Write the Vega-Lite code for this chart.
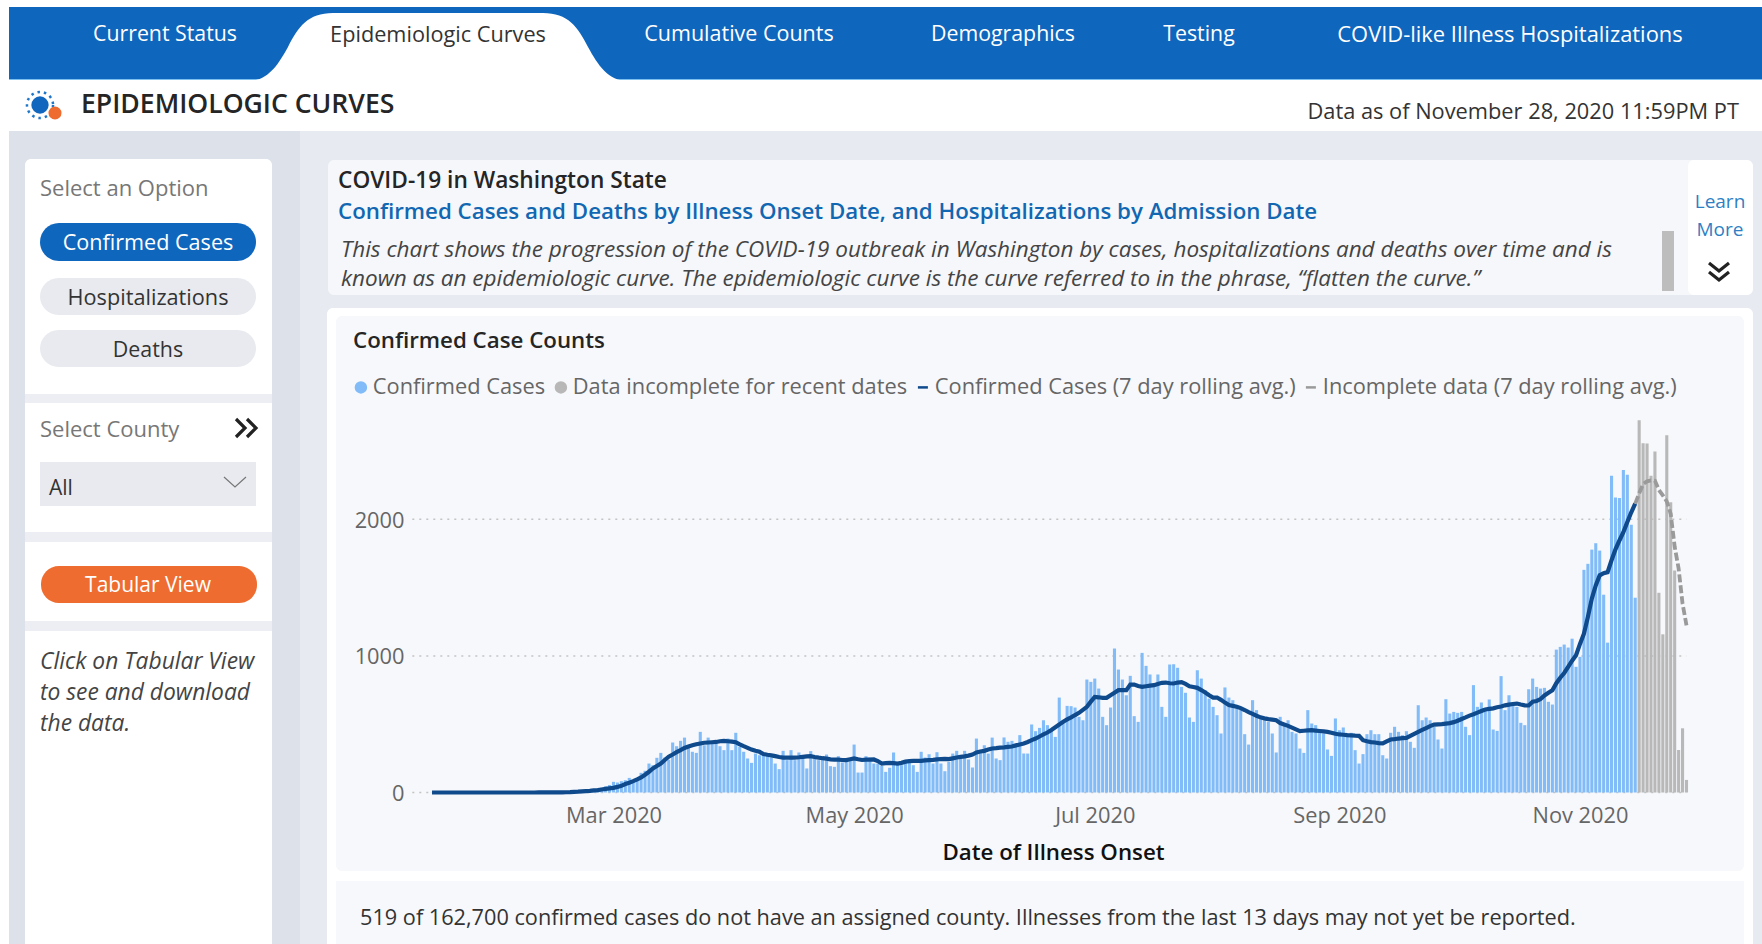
{"$schema":"https://vega.github.io/schema/vega-lite/v6.json","width":1762,"height":944,"padding":0,"autosize":{"type":"none"},"background":"#ffffff",
"config":{"font":"Open Sans","view":{"stroke":null},"text":{"font":"Open Sans","baseline":"middle"}},
"datasets":{"epi":[
{"date":"2020/01/15","cases":1,"avg":0},{"date":"2020/01/16","cases":0,"avg":0},{"date":"2020/01/17","cases":0,"avg":0},{"date":"2020/01/18","cases":0,"avg":0},{"date":"2020/01/19","cases":1,"avg":0},{"date":"2020/01/20","cases":0,"avg":0},{"date":"2020/01/21","cases":0,"avg":0},{"date":"2020/01/22","cases":0,"avg":0},{"date":"2020/01/23","cases":1,"avg":0},{"date":"2020/01/24","cases":0,"avg":0},{"date":"2020/01/25","cases":0,"avg":0},{"date":"2020/01/26","cases":0,"avg":0},{"date":"2020/01/27","cases":0,"avg":0},{"date":"2020/01/28","cases":1,"avg":0},{"date":"2020/01/29","cases":0,"avg":0},{"date":"2020/01/30","cases":0,"avg":0},{"date":"2020/01/31","cases":0,"avg":0},
{"date":"2020/02/01","cases":0,"avg":0},{"date":"2020/02/02","cases":1,"avg":0},{"date":"2020/02/03","cases":0,"avg":0},{"date":"2020/02/04","cases":1,"avg":0},{"date":"2020/02/05","cases":1,"avg":0},{"date":"2020/02/06","cases":0,"avg":0},{"date":"2020/02/07","cases":1,"avg":0},{"date":"2020/02/08","cases":1,"avg":0},{"date":"2020/02/09","cases":0,"avg":0},{"date":"2020/02/10","cases":1,"avg":0},{"date":"2020/02/11","cases":2,"avg":1},{"date":"2020/02/12","cases":1,"avg":1},{"date":"2020/02/13","cases":2,"avg":1},{"date":"2020/02/14","cases":3,"avg":1},{"date":"2020/02/15","cases":2,"avg":1},{"date":"2020/02/16","cases":3,"avg":1},{"date":"2020/02/17","cases":4,"avg":1},{"date":"2020/02/18","cases":6,"avg":2},{"date":"2020/02/19","cases":7,"avg":3},{"date":"2020/02/20","cases":9,"avg":5},{"date":"2020/02/21","cases":12,"avg":6},{"date":"2020/02/22","cases":14,"avg":8},{"date":"2020/02/23","cases":15,"avg":10},{"date":"2020/02/24","cases":20,"avg":12},{"date":"2020/02/25","cases":24,"avg":15},{"date":"2020/02/26","cases":28,"avg":18},{"date":"2020/02/27","cases":35,"avg":22},{"date":"2020/02/28","cases":45,"avg":26},{"date":"2020/02/29","cases":55,"avg":30},
{"date":"2020/03/01","cases":78,"avg":34},{"date":"2020/03/02","cases":73,"avg":41},{"date":"2020/03/03","cases":83,"avg":49},{"date":"2020/03/04","cases":90,"avg":62},{"date":"2020/03/05","cases":107,"avg":72},{"date":"2020/03/06","cases":83,"avg":83},{"date":"2020/03/07","cases":95,"avg":96},{"date":"2020/03/08","cases":144,"avg":110},{"date":"2020/03/09","cases":159,"avg":130},{"date":"2020/03/10","cases":212,"avg":152},{"date":"2020/03/11","cases":200,"avg":176},{"date":"2020/03/12","cases":254,"avg":194},{"date":"2020/03/13","cases":290,"avg":212},{"date":"2020/03/14","cases":256,"avg":238},{"date":"2020/03/15","cases":240,"avg":262},{"date":"2020/03/16","cases":366,"avg":278},{"date":"2020/03/17","cases":339,"avg":295},{"date":"2020/03/18","cases":378,"avg":310},{"date":"2020/03/19","cases":402,"avg":326},{"date":"2020/03/20","cases":346,"avg":337},{"date":"2020/03/21","cases":298,"avg":346},{"date":"2020/03/22","cases":290,"avg":353},{"date":"2020/03/23","cases":444,"avg":359},{"date":"2020/03/24","cases":346,"avg":364},{"date":"2020/03/25","cases":402,"avg":366},{"date":"2020/03/26","cases":378,"avg":368},{"date":"2020/03/27","cases":376,"avg":370},{"date":"2020/03/28","cases":339,"avg":375},{"date":"2020/03/29","cases":310,"avg":378},{"date":"2020/03/30","cases":395,"avg":375},{"date":"2020/03/31","cases":310,"avg":372},
{"date":"2020/04/01","cases":437,"avg":368},{"date":"2020/04/02","cases":334,"avg":352},{"date":"2020/04/03","cases":298,"avg":339},{"date":"2020/04/04","cases":249,"avg":327},{"date":"2020/04/05","cases":217,"avg":314},{"date":"2020/04/06","cases":285,"avg":305},{"date":"2020/04/07","cases":273,"avg":298},{"date":"2020/04/08","cases":273,"avg":282},{"date":"2020/04/09","cases":266,"avg":276},{"date":"2020/04/10","cases":256,"avg":272},{"date":"2020/04/11","cases":212,"avg":266},{"date":"2020/04/12","cases":171,"avg":260},{"date":"2020/04/13","cases":305,"avg":256},{"date":"2020/04/14","cases":237,"avg":256},{"date":"2020/04/15","cases":310,"avg":256},{"date":"2020/04/16","cases":237,"avg":256},{"date":"2020/04/17","cases":293,"avg":258},{"date":"2020/04/18","cases":250,"avg":261},{"date":"2020/04/19","cases":176,"avg":264},{"date":"2020/04/20","cases":303,"avg":266},{"date":"2020/04/21","cases":256,"avg":260},{"date":"2020/04/22","cases":237,"avg":255},{"date":"2020/04/23","cases":242,"avg":251},{"date":"2020/04/24","cases":278,"avg":248},{"date":"2020/04/25","cases":193,"avg":243},{"date":"2020/04/26","cases":188,"avg":241},{"date":"2020/04/27","cases":266,"avg":240},{"date":"2020/04/28","cases":220,"avg":238},{"date":"2020/04/29","cases":232,"avg":237},{"date":"2020/04/30","cases":237,"avg":243},
{"date":"2020/05/01","cases":351,"avg":249},{"date":"2020/05/02","cases":146,"avg":243},{"date":"2020/05/03","cases":146,"avg":238},{"date":"2020/05/04","cases":266,"avg":240},{"date":"2020/05/05","cases":256,"avg":241},{"date":"2020/05/06","cases":212,"avg":242},{"date":"2020/05/07","cases":212,"avg":230},{"date":"2020/05/08","cases":195,"avg":212},{"date":"2020/05/09","cases":151,"avg":215},{"date":"2020/05/10","cases":181,"avg":217},{"date":"2020/05/11","cases":293,"avg":215},{"date":"2020/05/12","cases":212,"avg":212},{"date":"2020/05/13","cases":200,"avg":217},{"date":"2020/05/14","cases":224,"avg":226},{"date":"2020/05/15","cases":217,"avg":230},{"date":"2020/05/16","cases":200,"avg":231},{"date":"2020/05/17","cases":151,"avg":232},{"date":"2020/05/18","cases":298,"avg":232},{"date":"2020/05/19","cases":256,"avg":235},{"date":"2020/05/20","cases":280,"avg":237},{"date":"2020/05/21","cases":212,"avg":239},{"date":"2020/05/22","cases":295,"avg":242},{"date":"2020/05/23","cases":212,"avg":245},{"date":"2020/05/24","cases":156,"avg":246},{"date":"2020/05/25","cases":224,"avg":244},{"date":"2020/05/26","cases":285,"avg":250},{"date":"2020/05/27","cases":305,"avg":256},{"date":"2020/05/28","cases":256,"avg":261},{"date":"2020/05/29","cases":305,"avg":265},{"date":"2020/05/30","cases":242,"avg":270},{"date":"2020/05/31","cases":183,"avg":278},
{"date":"2020/06/01","cases":395,"avg":293},{"date":"2020/06/02","cases":298,"avg":300},{"date":"2020/06/03","cases":346,"avg":305},{"date":"2020/06/04","cases":285,"avg":315},{"date":"2020/06/05","cases":402,"avg":322},{"date":"2020/06/06","cases":249,"avg":325},{"date":"2020/06/07","cases":237,"avg":329},{"date":"2020/06/08","cases":403,"avg":331},{"date":"2020/06/09","cases":371,"avg":334},{"date":"2020/06/10","cases":378,"avg":337},{"date":"2020/06/11","cases":346,"avg":345},{"date":"2020/06/12","cases":420,"avg":352},{"date":"2020/06/13","cases":285,"avg":359},{"date":"2020/06/14","cases":285,"avg":370},{"date":"2020/06/15","cases":498,"avg":383},{"date":"2020/06/16","cases":449,"avg":395},{"date":"2020/06/17","cases":473,"avg":410},{"date":"2020/06/18","cases":529,"avg":425},{"date":"2020/06/19","cases":493,"avg":439},{"date":"2020/06/20","cases":456,"avg":458},{"date":"2020/06/21","cases":407,"avg":478},{"date":"2020/06/22","cases":695,"avg":498},{"date":"2020/06/23","cases":529,"avg":518},{"date":"2020/06/24","cases":634,"avg":535},{"date":"2020/06/25","cases":632,"avg":550},{"date":"2020/06/26","cases":622,"avg":567},{"date":"2020/06/27","cases":554,"avg":583},{"date":"2020/06/28","cases":529,"avg":605},{"date":"2020/06/29","cases":827,"avg":627},{"date":"2020/06/30","cases":810,"avg":665},
{"date":"2020/07/01","cases":834,"avg":700},{"date":"2020/07/02","cases":761,"avg":697},{"date":"2020/07/03","cases":554,"avg":693},{"date":"2020/07/04","cases":493,"avg":693},{"date":"2020/07/05","cases":622,"avg":712},{"date":"2020/07/06","cases":1054,"avg":731},{"date":"2020/07/07","cases":900,"avg":749},{"date":"2020/07/08","cases":827,"avg":749},{"date":"2020/07/09","cases":712,"avg":749},{"date":"2020/07/10","cases":854,"avg":790},{"date":"2020/07/11","cases":559,"avg":790},{"date":"2020/07/12","cases":517,"avg":780},{"date":"2020/07/13","cases":1022,"avg":773},{"date":"2020/07/14","cases":927,"avg":778},{"date":"2020/07/15","cases":864,"avg":782},{"date":"2020/07/16","cases":773,"avg":786},{"date":"2020/07/17","cases":864,"avg":795},{"date":"2020/07/18","cases":627,"avg":803},{"date":"2020/07/19","cases":554,"avg":805},{"date":"2020/07/20","cases":937,"avg":800},{"date":"2020/07/21","cases":939,"avg":798},{"date":"2020/07/22","cases":913,"avg":805},{"date":"2020/07/23","cases":773,"avg":808},{"date":"2020/07/24","cases":730,"avg":795},{"date":"2020/07/25","cases":549,"avg":778},{"date":"2020/07/26","cases":517,"avg":772},{"date":"2020/07/27","cases":895,"avg":766},{"date":"2020/07/28","cases":834,"avg":750},{"date":"2020/07/29","cases":749,"avg":732},{"date":"2020/07/30","cases":688,"avg":712},{"date":"2020/07/31","cases":627,"avg":695},
{"date":"2020/08/01","cases":566,"avg":695},{"date":"2020/08/02","cases":432,"avg":678},{"date":"2020/08/03","cases":769,"avg":658},{"date":"2020/08/04","cases":695,"avg":640},{"date":"2020/08/05","cases":676,"avg":634},{"date":"2020/08/06","cases":627,"avg":628},{"date":"2020/08/07","cases":615,"avg":618},{"date":"2020/08/08","cases":427,"avg":604},{"date":"2020/08/09","cases":351,"avg":588},{"date":"2020/08/10","cases":676,"avg":575},{"date":"2020/08/11","cases":603,"avg":562},{"date":"2020/08/12","cases":554,"avg":550},{"date":"2020/08/13","cases":529,"avg":543},{"date":"2020/08/14","cases":517,"avg":537},{"date":"2020/08/15","cases":432,"avg":533},{"date":"2020/08/16","cases":293,"avg":529},{"date":"2020/08/17","cases":554,"avg":508},{"date":"2020/08/18","cases":493,"avg":498},{"date":"2020/08/19","cases":529,"avg":488},{"date":"2020/08/20","cases":444,"avg":475},{"date":"2020/08/21","cases":432,"avg":462},{"date":"2020/08/22","cases":322,"avg":449},{"date":"2020/08/23","cases":290,"avg":452},{"date":"2020/08/24","cases":603,"avg":455},{"date":"2020/08/25","cases":505,"avg":456},{"date":"2020/08/26","cases":493,"avg":453},{"date":"2020/08/27","cases":444,"avg":450},{"date":"2020/08/28","cases":432,"avg":447},{"date":"2020/08/29","cases":315,"avg":444},{"date":"2020/08/30","cases":268,"avg":438},{"date":"2020/08/31","cases":542,"avg":430},
{"date":"2020/09/01","cases":456,"avg":425},{"date":"2020/09/02","cases":476,"avg":423},{"date":"2020/09/03","cases":420,"avg":420},{"date":"2020/09/04","cases":437,"avg":418},{"date":"2020/09/05","cases":310,"avg":416},{"date":"2020/09/06","cases":212,"avg":415},{"date":"2020/09/07","cases":281,"avg":383},{"date":"2020/09/08","cases":427,"avg":375},{"date":"2020/09/09","cases":456,"avg":369},{"date":"2020/09/10","cases":427,"avg":366},{"date":"2020/09/11","cases":427,"avg":362},{"date":"2020/09/12","cases":273,"avg":360},{"date":"2020/09/13","cases":249,"avg":375},{"date":"2020/09/14","cases":437,"avg":388},{"date":"2020/09/15","cases":481,"avg":391},{"date":"2020/09/16","cases":444,"avg":395},{"date":"2020/09/17","cases":420,"avg":398},{"date":"2020/09/18","cases":449,"avg":400},{"date":"2020/09/19","cases":371,"avg":415},{"date":"2020/09/20","cases":327,"avg":430},{"date":"2020/09/21","cases":639,"avg":444},{"date":"2020/09/22","cases":529,"avg":458},{"date":"2020/09/23","cases":549,"avg":472},{"date":"2020/09/24","cases":529,"avg":486},{"date":"2020/09/25","cases":481,"avg":497},{"date":"2020/09/26","cases":388,"avg":499},{"date":"2020/09/27","cases":322,"avg":500},{"date":"2020/09/28","cases":683,"avg":504},{"date":"2020/09/29","cases":578,"avg":508},{"date":"2020/09/30","cases":590,"avg":515},
{"date":"2020/10/01","cases":583,"avg":525},{"date":"2020/10/02","cases":590,"avg":538},{"date":"2020/10/03","cases":481,"avg":550},{"date":"2020/10/04","cases":420,"avg":563},{"date":"2020/10/05","cases":786,"avg":573},{"date":"2020/10/06","cases":627,"avg":585},{"date":"2020/10/07","cases":659,"avg":597},{"date":"2020/10/08","cases":615,"avg":608},{"date":"2020/10/09","cases":681,"avg":612},{"date":"2020/10/10","cases":461,"avg":616},{"date":"2020/10/11","cases":451,"avg":624},{"date":"2020/10/12","cases":852,"avg":630},{"date":"2020/10/13","cases":603,"avg":638},{"date":"2020/10/14","cases":712,"avg":643},{"date":"2020/10/15","cases":639,"avg":648},{"date":"2020/10/16","cases":627,"avg":651},{"date":"2020/10/17","cases":510,"avg":644},{"date":"2020/10/18","cases":493,"avg":638},{"date":"2020/10/19","cases":756,"avg":637},{"date":"2020/10/20","cases":834,"avg":665},{"date":"2020/10/21","cases":773,"avg":670},{"date":"2020/10/22","cases":761,"avg":684},{"date":"2020/10/23","cases":766,"avg":710},{"date":"2020/10/24","cases":664,"avg":730},{"date":"2020/10/25","cases":644,"avg":749},{"date":"2020/10/26","cases":1046,"avg":800},{"date":"2020/10/27","cases":1066,"avg":840},{"date":"2020/10/28","cases":1083,"avg":875},{"date":"2020/10/29","cases":1061,"avg":920},{"date":"2020/10/30","cases":1126,"avg":965},{"date":"2020/10/31","cases":920,"avg":1005},
{"date":"2020/11/01","cases":993,"avg":1088},{"date":"2020/11/02","cases":1630,"avg":1163},{"date":"2020/11/03","cases":1674,"avg":1285},{"date":"2020/11/04","cases":1778,"avg":1420},{"date":"2020/11/05","cases":1825,"avg":1516},{"date":"2020/11/06","cases":1771,"avg":1590},{"date":"2020/11/07","cases":1448,"avg":1606},{"date":"2020/11/08","cases":1097,"avg":1613},{"date":"2020/11/09","cases":2319,"avg":1700},{"date":"2020/11/10","cases":2160,"avg":1780},{"date":"2020/11/11","cases":2156,"avg":1845},{"date":"2020/11/12","cases":2360,"avg":1905},{"date":"2020/11/13","cases":2326,"avg":1980},{"date":"2020/11/14","cases":1961,"avg":2051},{"date":"2020/11/15","cases":1426,"avg":2115,"avgIncomplete":2115},
{"date":"2020/11/16","incomplete":2725,"avgIncomplete":2190},{"date":"2020/11/17","incomplete":2557,"avgIncomplete":2258},{"date":"2020/11/18","incomplete":2555,"avgIncomplete":2278},{"date":"2020/11/19","incomplete":2319,"avgIncomplete":2285},{"date":"2020/11/20","incomplete":2496,"avgIncomplete":2282},{"date":"2020/11/21","incomplete":1462,"avgIncomplete":2215},{"date":"2020/11/22","incomplete":1158,"avgIncomplete":2175},{"date":"2020/11/23","incomplete":2615,"avgIncomplete":2130},{"date":"2020/11/24","incomplete":2124,"avgIncomplete":2040},{"date":"2020/11/25","incomplete":1625,"avgIncomplete":1800},{"date":"2020/11/26","incomplete":311,"avgIncomplete":1640},{"date":"2020/11/27","incomplete":470,"avgIncomplete":1382},{"date":"2020/11/28","incomplete":92,"avgIncomplete":1224}
],"grid":[{"level":0,"from":"2020/01/10","to":"2020/11/28"},{"level":1000,"from":"2020/01/10","to":"2020/11/28"},{"level":2000,"from":"2020/01/10","to":"2020/11/28"}]},
"resolve":{"scale":{"x":"independent","y":"independent"}},
"layer":[
{"data":{"values":[{"t":"page"}]},"mark":{"type":"rect","color":"#e7eaf0"},"encoding":{"x":{"field":"t","type":"nominal","axis":null,"scale":{"type":"band","range":[9,1762],"padding":0}},"y":{"field":"t","type":"nominal","axis":null,"scale":{"type":"band","range":[131,944],"padding":0}}}},
{"data":{"values":[{"t":"sideband"}]},"mark":{"type":"rect","color":"#dce1ea"},"encoding":{"x":{"field":"t","type":"nominal","axis":null,"scale":{"type":"band","range":[9,300],"padding":0}},"y":{"field":"t","type":"nominal","axis":null,"scale":{"type":"band","range":[131,944],"padding":0}}}},
{"data":{"values":[{"t":"tabs"}]},"mark":{"type":"rect","color":"#0f66bd"},"encoding":{"x":{"field":"t","type":"nominal","axis":null,"scale":{"type":"band","range":[9,1762],"padding":0}},"y":{"field":"t","type":"nominal","axis":null,"scale":{"type":"band","range":[7,79],"padding":0}}}},
{"data":{"values":[{"t":"tabline"}]},"mark":{"type":"rect","color":"#7cc0f0"},"encoding":{"x":{"field":"t","type":"nominal","axis":null,"scale":{"type":"band","range":[9,1762],"padding":0}},"y":{"field":"t","type":"nominal","axis":null,"scale":{"type":"band","range":[79,80],"padding":0}}}},
{"data":{"values":[{"t":"activetab"}]},"mark":{"type":"point","filled":true,"color":"#ffffff","opacity":1,"size":4,"shape":"M-190 2 C-170 2 -160 -14 -150 -32 C-140 -52 -130 -66 -105 -66 L105 -66 C130 -66 140 -52 150 -32 C160 -14 170 2 190 2 Z"},"encoding":{"x":{"field":"t","type":"nominal","axis":null,"scale":{"type":"point","range":[438,438]}},"y":{"field":"t","type":"nominal","axis":null,"scale":{"type":"point","range":[79,79]}}}},
{"data":{"values":[{"t":"sidebar"}]},"mark":{"type":"rect","color":"#ffffff","cornerRadius":6},"encoding":{"x":{"field":"t","type":"nominal","axis":null,"scale":{"type":"band","range":[25,272],"padding":0}},"y":{"field":"t","type":"nominal","axis":null,"scale":{"type":"band","range":[159,950],"padding":0}}}},
{"data":{"values":[{"t":"strip1"}]},"mark":{"type":"rect","color":"#eceef3"},"encoding":{"x":{"field":"t","type":"nominal","axis":null,"scale":{"type":"band","range":[25,272],"padding":0}},"y":{"field":"t","type":"nominal","axis":null,"scale":{"type":"band","range":[394,403],"padding":0}}}},
{"data":{"values":[{"t":"strip2"}]},"mark":{"type":"rect","color":"#eceef3"},"encoding":{"x":{"field":"t","type":"nominal","axis":null,"scale":{"type":"band","range":[25,272],"padding":0}},"y":{"field":"t","type":"nominal","axis":null,"scale":{"type":"band","range":[532,542],"padding":0}}}},
{"data":{"values":[{"t":"strip3"}]},"mark":{"type":"rect","color":"#eceef3"},"encoding":{"x":{"field":"t","type":"nominal","axis":null,"scale":{"type":"band","range":[25,272],"padding":0}},"y":{"field":"t","type":"nominal","axis":null,"scale":{"type":"band","range":[621,631],"padding":0}}}},
{"data":{"values":[{"t":"pill1"}]},"mark":{"type":"rect","color":"#0f66bd","cornerRadius":19},"encoding":{"x":{"field":"t","type":"nominal","axis":null,"scale":{"type":"band","range":[40,256],"padding":0}},"y":{"field":"t","type":"nominal","axis":null,"scale":{"type":"band","range":[223,261],"padding":0}}}},
{"data":{"values":[{"t":"pill2"}]},"mark":{"type":"rect","color":"#e8eaef","cornerRadius":19},"encoding":{"x":{"field":"t","type":"nominal","axis":null,"scale":{"type":"band","range":[40,256],"padding":0}},"y":{"field":"t","type":"nominal","axis":null,"scale":{"type":"band","range":[278,315],"padding":0}}}},
{"data":{"values":[{"t":"pill3"}]},"mark":{"type":"rect","color":"#e8eaef","cornerRadius":19},"encoding":{"x":{"field":"t","type":"nominal","axis":null,"scale":{"type":"band","range":[40,256],"padding":0}},"y":{"field":"t","type":"nominal","axis":null,"scale":{"type":"band","range":[330,367],"padding":0}}}},
{"data":{"values":[{"t":"dropdown"}]},"mark":{"type":"rect","color":"#e8eaef"},"encoding":{"x":{"field":"t","type":"nominal","axis":null,"scale":{"type":"band","range":[40,256],"padding":0}},"y":{"field":"t","type":"nominal","axis":null,"scale":{"type":"band","range":[462,506],"padding":0}}}},
{"data":{"values":[{"t":"tabular"}]},"mark":{"type":"rect","color":"#ee6c2f","cornerRadius":18},"encoding":{"x":{"field":"t","type":"nominal","axis":null,"scale":{"type":"band","range":[41,257],"padding":0}},"y":{"field":"t","type":"nominal","axis":null,"scale":{"type":"band","range":[566,603],"padding":0}}}},
{"data":{"values":[{"t":"headerpanel"}]},"mark":{"type":"rect","color":"#f6f7fb","cornerRadius":6},"encoding":{"x":{"field":"t","type":"nominal","axis":null,"scale":{"type":"band","range":[328,1700],"padding":0}},"y":{"field":"t","type":"nominal","axis":null,"scale":{"type":"band","range":[160,295],"padding":0}}}},
{"data":{"values":[{"t":"learnpanel"}]},"mark":{"type":"rect","color":"#ffffff","cornerRadius":6},"encoding":{"x":{"field":"t","type":"nominal","axis":null,"scale":{"type":"band","range":[1688,1753],"padding":0}},"y":{"field":"t","type":"nominal","axis":null,"scale":{"type":"band","range":[160,295],"padding":0}}}},
{"data":{"values":[{"t":"scrollbar"}]},"mark":{"type":"rect","color":"#bdbdbd"},"encoding":{"x":{"field":"t","type":"nominal","axis":null,"scale":{"type":"band","range":[1662,1674],"padding":0}},"y":{"field":"t","type":"nominal","axis":null,"scale":{"type":"band","range":[231,291],"padding":0}}}},
{"data":{"values":[{"t":"chartouter"}]},"mark":{"type":"rect","color":"#ffffff","cornerRadius":6},"encoding":{"x":{"field":"t","type":"nominal","axis":null,"scale":{"type":"band","range":[327,1753],"padding":0}},"y":{"field":"t","type":"nominal","axis":null,"scale":{"type":"band","range":[308,950],"padding":0}}}},
{"data":{"values":[{"t":"chartinner"}]},"mark":{"type":"rect","color":"#f7f8fb","cornerRadius":6},"encoding":{"x":{"field":"t","type":"nominal","axis":null,"scale":{"type":"band","range":[336,1744],"padding":0}},"y":{"field":"t","type":"nominal","axis":null,"scale":{"type":"band","range":[316,871],"padding":0}}}},
{"data":{"values":[{"t":"footer"}]},"mark":{"type":"rect","color":"#f7f8fb"},"encoding":{"x":{"field":"t","type":"nominal","axis":null,"scale":{"type":"band","range":[336,1744],"padding":0}},"y":{"field":"t","type":"nominal","axis":null,"scale":{"type":"band","range":[881,944],"padding":0}}}},
{"data":{"values":[{"t":"ring"}]},"mark":{"type":"point","shape":"circle","filled":false,"color":"#1f77c9","opacity":1,"strokeWidth":2.5,"strokeDash":[2.5,4],"size":680},"encoding":{"x":{"field":"t","type":"nominal","axis":null,"scale":{"type":"point","range":[40,40]}},"y":{"field":"t","type":"nominal","axis":null,"scale":{"type":"point","range":[105,105]}}}},
{"data":{"values":[{"t":"core"}]},"mark":{"type":"point","shape":"circle","filled":true,"color":"#1167bd","opacity":1,"size":300},"encoding":{"x":{"field":"t","type":"nominal","axis":null,"scale":{"type":"point","range":[40,40]}},"y":{"field":"t","type":"nominal","axis":null,"scale":{"type":"point","range":[105,105]}}}},
{"data":{"values":[{"t":"badge"}]},"mark":{"type":"point","shape":"circle","filled":true,"color":"#ee6c2f","opacity":1,"size":170},"encoding":{"x":{"field":"t","type":"nominal","axis":null,"scale":{"type":"point","range":[55,55]}},"y":{"field":"t","type":"nominal","axis":null,"scale":{"type":"point","range":[113,113]}}}},
{"data":{"values":[{"t":">>"}]},"mark":{"type":"point","filled":false,"color":"#222222","opacity":1,"strokeWidth":3.2,"size":4,"shape":"M-12 -9 L-3 0 L-12 9 M-1 -9 L8 0 L-1 9"},"encoding":{"x":{"field":"t","type":"nominal","axis":null,"scale":{"type":"point","range":[248,248]}},"y":{"field":"t","type":"nominal","axis":null,"scale":{"type":"point","range":[428,428]}}}},
{"data":{"values":[{"t":"v"}]},"mark":{"type":"point","filled":false,"color":"#777777","opacity":1,"strokeWidth":1.2,"size":4,"shape":"M-11 -5 L0 5 L11 -5"},"encoding":{"x":{"field":"t","type":"nominal","axis":null,"scale":{"type":"point","range":[235,235]}},"y":{"field":"t","type":"nominal","axis":null,"scale":{"type":"point","range":[482,482]}}}},
{"data":{"values":[{"t":"vv"}]},"mark":{"type":"point","filled":false,"color":"#222222","opacity":1,"strokeWidth":3.2,"size":4,"shape":"M-10 -9 L0 -1 L10 -9 M-10 0 L0 8 L10 0"},"encoding":{"x":{"field":"t","type":"nominal","axis":null,"scale":{"type":"point","range":[1719,1719]}},"y":{"field":"t","type":"nominal","axis":null,"scale":{"type":"point","range":[272,272]}}}},
{"data":{"values":[{"t":"Current Status"}]},"mark":{"type":"text","fontSize":21.3,"color":"#ffffff"},"encoding":{"text":{"field":"t"},"x":{"field":"t","type":"nominal","axis":null,"scale":{"type":"point","range":[165,165]}},"y":{"field":"t","type":"nominal","axis":null,"scale":{"type":"point","range":[35,35]}}}},
{"data":{"values":[{"t":"Epidemiologic Curves"}]},"mark":{"type":"text","fontSize":21.7,"color":"#333333"},"encoding":{"text":{"field":"t"},"x":{"field":"t","type":"nominal","axis":null,"scale":{"type":"point","range":[438,438]}},"y":{"field":"t","type":"nominal","axis":null,"scale":{"type":"point","range":[35,35]}}}},
{"data":{"values":[{"t":"Cumulative Counts"}]},"mark":{"type":"text","fontSize":21.5,"color":"#ffffff"},"encoding":{"text":{"field":"t"},"x":{"field":"t","type":"nominal","axis":null,"scale":{"type":"point","range":[739,739]}},"y":{"field":"t","type":"nominal","axis":null,"scale":{"type":"point","range":[35,35]}}}},
{"data":{"values":[{"t":"Demographics"}]},"mark":{"type":"text","fontSize":21.3,"color":"#ffffff"},"encoding":{"text":{"field":"t"},"x":{"field":"t","type":"nominal","axis":null,"scale":{"type":"point","range":[1003,1003]}},"y":{"field":"t","type":"nominal","axis":null,"scale":{"type":"point","range":[35,35]}}}},
{"data":{"values":[{"t":"Testing"}]},"mark":{"type":"text","fontSize":21.3,"color":"#ffffff"},"encoding":{"text":{"field":"t"},"x":{"field":"t","type":"nominal","axis":null,"scale":{"type":"point","range":[1199,1199]}},"y":{"field":"t","type":"nominal","axis":null,"scale":{"type":"point","range":[35,35]}}}},
{"data":{"values":[{"t":"COVID-like Illness Hospitalizations"}]},"mark":{"type":"text","fontSize":21.9,"color":"#ffffff"},"encoding":{"text":{"field":"t"},"x":{"field":"t","type":"nominal","axis":null,"scale":{"type":"point","range":[1510,1510]}},"y":{"field":"t","type":"nominal","axis":null,"scale":{"type":"point","range":[35,35]}}}},
{"data":{"values":[{"t":"EPIDEMIOLOGIC CURVES"}]},"mark":{"type":"text","fontSize":26.6,"fontWeight":600,"color":"#252525","align":"left"},"encoding":{"text":{"field":"t"},"x":{"field":"t","type":"nominal","axis":null,"scale":{"type":"point","range":[81,81]}},"y":{"field":"t","type":"nominal","axis":null,"scale":{"type":"point","range":[105,105]}}}},
{"data":{"values":[{"t":"Data as of November 28, 2020 11:59PM PT"}]},"mark":{"type":"text","fontSize":21.8,"color":"#333333","align":"right"},"encoding":{"text":{"field":"t"},"x":{"field":"t","type":"nominal","axis":null,"scale":{"type":"point","range":[1739,1739]}},"y":{"field":"t","type":"nominal","axis":null,"scale":{"type":"point","range":[112,112]}}}},
{"data":{"values":[{"t":"Select an Option"}]},"mark":{"type":"text","fontSize":22,"color":"#777777","align":"left"},"encoding":{"text":{"field":"t"},"x":{"field":"t","type":"nominal","axis":null,"scale":{"type":"point","range":[40,40]}},"y":{"field":"t","type":"nominal","axis":null,"scale":{"type":"point","range":[189,189]}}}},
{"data":{"values":[{"t":"Confirmed Cases"}]},"mark":{"type":"text","fontSize":21.6,"color":"#ffffff"},"encoding":{"text":{"field":"t"},"x":{"field":"t","type":"nominal","axis":null,"scale":{"type":"point","range":[148,148]}},"y":{"field":"t","type":"nominal","axis":null,"scale":{"type":"point","range":[244,244]}}}},
{"data":{"values":[{"t":"Hospitalizations"}]},"mark":{"type":"text","fontSize":21.7,"color":"#333333"},"encoding":{"text":{"field":"t"},"x":{"field":"t","type":"nominal","axis":null,"scale":{"type":"point","range":[148,148]}},"y":{"field":"t","type":"nominal","axis":null,"scale":{"type":"point","range":[298,298]}}}},
{"data":{"values":[{"t":"Deaths"}]},"mark":{"type":"text","fontSize":21.4,"color":"#333333"},"encoding":{"text":{"field":"t"},"x":{"field":"t","type":"nominal","axis":null,"scale":{"type":"point","range":[148,148]}},"y":{"field":"t","type":"nominal","axis":null,"scale":{"type":"point","range":[351,351]}}}},
{"data":{"values":[{"t":"Select County"}]},"mark":{"type":"text","fontSize":22,"color":"#777777","align":"left"},"encoding":{"text":{"field":"t"},"x":{"field":"t","type":"nominal","axis":null,"scale":{"type":"point","range":[40,40]}},"y":{"field":"t","type":"nominal","axis":null,"scale":{"type":"point","range":[430,430]}}}},
{"data":{"values":[{"t":"All"}]},"mark":{"type":"text","fontSize":21,"color":"#333333","align":"left"},"encoding":{"text":{"field":"t"},"x":{"field":"t","type":"nominal","axis":null,"scale":{"type":"point","range":[49,49]}},"y":{"field":"t","type":"nominal","axis":null,"scale":{"type":"point","range":[489,489]}}}},
{"data":{"values":[{"t":"Tabular View"}]},"mark":{"type":"text","fontSize":21,"color":"#ffffff"},"encoding":{"text":{"field":"t"},"x":{"field":"t","type":"nominal","axis":null,"scale":{"type":"point","range":[148,148]}},"y":{"field":"t","type":"nominal","axis":null,"scale":{"type":"point","range":[586,586]}}}},
{"data":{"values":[{"t":"Click on Tabular View"},{"t":"to see and download"},{"t":"the data."}]},"mark":{"type":"text","fontSize":22.8,"fontStyle":"italic","color":"#444444","align":"left"},"encoding":{"text":{"field":"t"},"x":{"field":"t","type":"nominal","axis":null,"scale":{"type":"point","range":[40,40]}},"y":{"field":"t","type":"nominal","axis":null,"sort":null,"scale":{"type":"point","padding":0,"range":[662,724]}}}},
{"data":{"values":[{"t":"COVID-19 in Washington State"}]},"mark":{"type":"text","fontSize":22.7,"fontWeight":600,"color":"#252525","align":"left"},"encoding":{"text":{"field":"t"},"x":{"field":"t","type":"nominal","axis":null,"scale":{"type":"point","range":[338,338]}},"y":{"field":"t","type":"nominal","axis":null,"scale":{"type":"point","range":[181,181]}}}},
{"data":{"values":[{"t":"Confirmed Cases and Deaths by Illness Onset Date, and Hospitalizations by Admission Date"}]},"mark":{"type":"text","fontSize":22.3,"fontWeight":600,"color":"#1167b1","align":"left"},"encoding":{"text":{"field":"t"},"x":{"field":"t","type":"nominal","axis":null,"scale":{"type":"point","range":[338,338]}},"y":{"field":"t","type":"nominal","axis":null,"scale":{"type":"point","range":[212,212]}}}},
{"data":{"values":[{"t":"This chart shows the progression of the COVID-19 outbreak in Washington by cases, hospitalizations and deaths over time and is"},{"t":"known as an epidemiologic curve. The epidemiologic curve is the curve referred to in the phrase, “flatten the curve.”"}]},"mark":{"type":"text","fontSize":22.5,"fontStyle":"italic","color":"#444444","align":"left"},"encoding":{"text":{"field":"t"},"x":{"field":"t","type":"nominal","axis":null,"scale":{"type":"point","range":[341,341]}},"y":{"field":"t","type":"nominal","axis":null,"sort":null,"scale":{"type":"point","padding":0,"range":[250,279]}}}},
{"data":{"values":[{"t":"Learn"},{"t":"More"}]},"mark":{"type":"text","fontSize":19,"color":"#2f7fc4"},"encoding":{"text":{"field":"t"},"x":{"field":"t","type":"nominal","axis":null,"scale":{"type":"point","range":[1720,1720]}},"y":{"field":"t","type":"nominal","axis":null,"sort":null,"scale":{"type":"point","padding":0,"range":[202,230]}}}},
{"data":{"values":[{"t":"Confirmed Case Counts"}]},"mark":{"type":"text","fontSize":22.3,"fontWeight":600,"color":"#252525","align":"left"},"encoding":{"text":{"field":"t"},"x":{"field":"t","type":"nominal","axis":null,"scale":{"type":"point","range":[353,353]}},"y":{"field":"t","type":"nominal","axis":null,"scale":{"type":"point","range":[341,341]}}}},
{"data":{"values":[{"t":"519 of 162,700 confirmed cases do not have an assigned county. Illnesses from the last 13 days may not yet be reported."}]},"mark":{"type":"text","fontSize":21.7,"color":"#333333","align":"left"},"encoding":{"text":{"field":"t"},"x":{"field":"t","type":"nominal","axis":null,"scale":{"type":"point","range":[360,360]}},"y":{"field":"t","type":"nominal","axis":null,"scale":{"type":"point","range":[918,918]}}}},
{"data":{"name":"epi"},
"encoding":{
"x":{"field":"date","type":"temporal","title":"Date of Illness Onset","scale":{"domain":[{"year":2020,"month":1,"date":10},{"year":2020,"month":11,"date":28}],"range":[412.3,1686.5],"padding":0},"axis":{"orient":"bottom","zindex":1,"offset":-151.5,"grid":false,"domain":false,"ticks":false,"tickCount":{"interval":"month","step":2},"format":"%b %Y","labelFontSize":21.8,"labelColor":"#666666","labelPadding":12.5,"labelAngle":0,"labelOverlap":false,"titleFontSize":22.3,"titleFontWeight":600,"titleColor":"#111111","titlePadding":15,"titleX":1053}},
"y":{"type":"quantitative","scale":{"domain":[0,3000],"range":[792.5,382.7],"nice":false}}},
"layer":[
{"data":{"name":"grid"},"mark":{"type":"rule","color":"#c4c4c4","strokeWidth":1.5,"strokeDash":[2,5]},"encoding":{"x":{"field":"from","type":"temporal"},"x2":{"field":"to"},"y":{"field":"level","type":"quantitative","axis":{"orient":"left","zindex":1,"offset":-412,"values":[0,1000,2000],"format":"d","grid":false,"domain":false,"ticks":false,"title":null,"labelFontSize":21.8,"labelColor":"#666666","labelPadding":8,"labelOffset":1}}}},
{"mark":{"type":"bar","width":3.1},"encoding":{"y":{"field":"cases","type":"quantitative"},"color":{"datum":"Confirmed Cases","type":"nominal","scale":{"domain":["Confirmed Cases","Data incomplete for recent dates","Confirmed Cases (7 day rolling avg.)","Incomplete data (7 day rolling avg.)"],"range":["#82bcf8","#b8b8b8","#0f4a8c","#9a9a9a"]},"legend":{"title":null,"orient":"none","legendX":350,"legendY":376.5,"direction":"horizontal","columns":4,"gridAlign":"none","columnPadding":4,"labelFontSize":21.8,"labelColor":"#666666","labelOffset":1,"labelLimit":600,"symbolSize":100,"encode":{"symbols":{"update":{"shape":{"signal":"indexof(datum.value,'rolling')>=0?'stroke':'circle'"},"fill":{"scale":"color","field":"value"},"stroke":{"scale":"color","field":"value"},"strokeWidth":{"value":2.5},"opacity":{"value":1}}}}}}}},
{"mark":{"type":"bar","width":3.1},"encoding":{"y":{"field":"incomplete","type":"quantitative"},"color":{"datum":"Data incomplete for recent dates","type":"nominal"}}},
{"mark":{"type":"line","strokeWidth":4.2,"interpolate":"linear"},"encoding":{"y":{"field":"avg","type":"quantitative"},"color":{"datum":"Confirmed Cases (7 day rolling avg.)","type":"nominal"}}},
{"mark":{"type":"line","strokeWidth":3.8,"strokeDash":[8,3]},"encoding":{"y":{"field":"avgIncomplete","type":"quantitative"},"color":{"datum":"Incomplete data (7 day rolling avg.)","type":"nominal"}}}
]}
]}
